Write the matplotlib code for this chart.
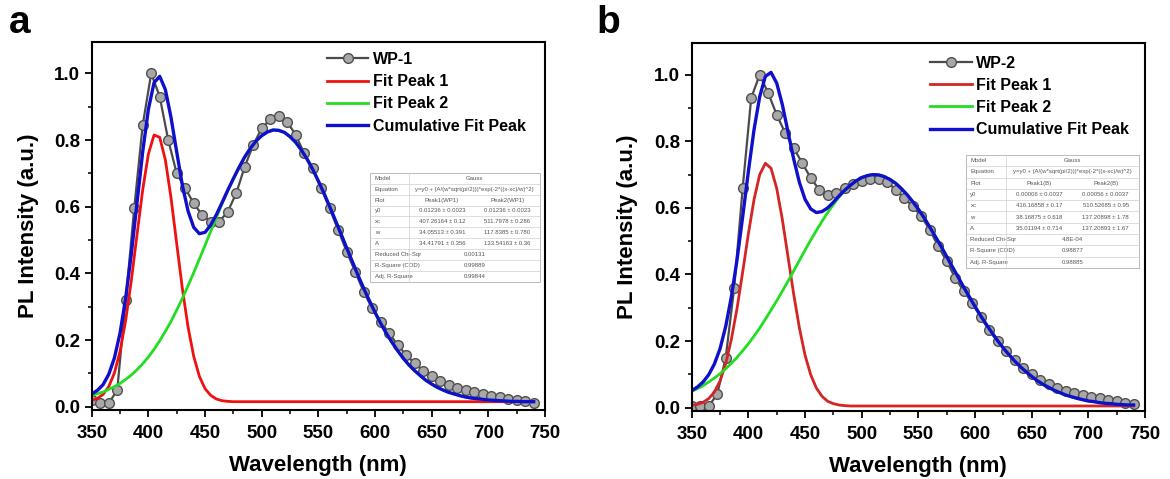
import numpy as np
import matplotlib
matplotlib.use('Agg')
import matplotlib.pyplot as plt
from matplotlib.ticker import MultipleLocator, FormatStrFormatter
from matplotlib.patches import Rectangle

plt.rcParams['font.family'] = ['Liberation Sans', 'DejaVu Sans']
plt.rcParams['font.weight'] = 'bold'

# measured spectra, one point every 7.5 nm
wl_data = np.arange(350, 741, 7.5)
wp1 = [0.02, 0.01, 0.01, 0.05, 0.32, 0.595, 0.845, 1.0, 0.93, 0.80,
       0.70, 0.655, 0.61, 0.575, 0.555, 0.555, 0.585, 0.64, 0.72, 0.785,
       0.835, 0.862, 0.872, 0.855, 0.815, 0.76, 0.715, 0.655, 0.595, 0.53,
       0.465, 0.405, 0.345, 0.295, 0.255, 0.22, 0.185, 0.155, 0.13, 0.108,
       0.092, 0.078, 0.066, 0.057, 0.049, 0.043, 0.037, 0.032, 0.028, 0.024,
       0.02, 0.016, 0.012]
wp2 = [0.005, 0.005, 0.005, 0.04, 0.15, 0.36, 0.66, 0.93, 1.0, 0.945,
       0.88, 0.825, 0.78, 0.735, 0.69, 0.655, 0.64, 0.645, 0.66, 0.672,
       0.682, 0.688, 0.688, 0.678, 0.655, 0.63, 0.605, 0.575, 0.535, 0.485,
       0.44, 0.39, 0.35, 0.315, 0.272, 0.232, 0.2, 0.17, 0.143, 0.12,
       0.1, 0.083, 0.07, 0.058, 0.05, 0.045, 0.039, 0.033, 0.028, 0.024,
       0.019, 0.015, 0.011]

# fit curves, read every 5 nm
wl_fit = np.arange(350, 741, 5)
peak1_a = [0.019, 0.025, 0.037, 0.060, 0.101, 0.166, 0.260, 0.380, 0.517, 0.651,
           0.758, 0.815, 0.808, 0.740, 0.626, 0.489, 0.354, 0.239, 0.151, 0.091,
           0.054, 0.034, 0.023, 0.018, 0.016, 0.015, 0.015, 0.015, 0.015, 0.015,
           0.015, 0.015, 0.015, 0.015, 0.015, 0.015, 0.015, 0.015, 0.015, 0.015,
           0.015, 0.015, 0.015, 0.015, 0.015, 0.015, 0.015, 0.015, 0.015, 0.015,
           0.015, 0.015, 0.015, 0.015, 0.015, 0.015, 0.015, 0.015, 0.015, 0.015,
           0.015, 0.015, 0.015, 0.015, 0.015, 0.015, 0.015, 0.015, 0.015, 0.015,
           0.015, 0.015, 0.015, 0.015, 0.015, 0.015, 0.015, 0.015, 0.015]
peak2_a = [0.034, 0.039, 0.044, 0.052, 0.060, 0.070, 0.082, 0.095, 0.111, 0.129,
           0.149, 0.172, 0.198, 0.226, 0.256, 0.290, 0.325, 0.363, 0.402, 0.443,
           0.484, 0.526, 0.568, 0.609, 0.648, 0.684, 0.718, 0.749, 0.775, 0.797,
           0.813, 0.824, 0.830, 0.829, 0.823, 0.810, 0.793, 0.770, 0.743, 0.712,
           0.677, 0.640, 0.600, 0.559, 0.518, 0.476, 0.435, 0.394, 0.355, 0.318,
           0.283, 0.250, 0.220, 0.193, 0.168, 0.145, 0.125, 0.108, 0.093, 0.079,
           0.068, 0.058, 0.050, 0.043, 0.038, 0.033, 0.029, 0.026, 0.024, 0.022,
           0.020, 0.019, 0.018, 0.017, 0.016, 0.016, 0.015, 0.015, 0.015]
cumul_a = [0.038, 0.049, 0.066, 0.097, 0.146, 0.221, 0.327, 0.460, 0.613, 0.765,
           0.892, 0.972, 0.991, 0.951, 0.867, 0.764, 0.664, 0.587, 0.538, 0.519,
           0.523, 0.545, 0.576, 0.612, 0.649, 0.684, 0.718, 0.749, 0.775, 0.797,
           0.813, 0.824, 0.830, 0.829, 0.823, 0.810, 0.793, 0.770, 0.743, 0.712,
           0.677, 0.640, 0.600, 0.559, 0.518, 0.476, 0.435, 0.394, 0.355, 0.318,
           0.283, 0.250, 0.220, 0.193, 0.168, 0.145, 0.125, 0.108, 0.093, 0.079,
           0.068, 0.058, 0.050, 0.043, 0.038, 0.033, 0.029, 0.026, 0.024, 0.022,
           0.020, 0.019, 0.018, 0.017, 0.016, 0.016, 0.015, 0.015, 0.015]

peak1_b = [0.007, 0.010, 0.016, 0.027, 0.047, 0.080, 0.132, 0.205, 0.298, 0.408,
           0.522, 0.625, 0.700, 0.734, 0.719, 0.659, 0.565, 0.453, 0.341, 0.240,
           0.158, 0.099, 0.059, 0.034, 0.019, 0.012, 0.008, 0.006, 0.005, 0.005,
           0.005, 0.005, 0.005, 0.005, 0.005, 0.005, 0.005, 0.005, 0.005, 0.005,
           0.005, 0.005, 0.005, 0.005, 0.005, 0.005, 0.005, 0.005, 0.005, 0.005,
           0.005, 0.005, 0.005, 0.005, 0.005, 0.005, 0.005, 0.005, 0.005, 0.005,
           0.005, 0.005, 0.005, 0.005, 0.005, 0.005, 0.005, 0.005, 0.005, 0.005,
           0.005, 0.005, 0.005, 0.005, 0.005, 0.005, 0.005, 0.005, 0.005]
peak2_b = [0.049, 0.057, 0.066, 0.077, 0.089, 0.102, 0.117, 0.133, 0.151, 0.171,
           0.192, 0.215, 0.239, 0.266, 0.293, 0.321, 0.350, 0.380, 0.411, 0.442,
           0.473, 0.503, 0.532, 0.560, 0.586, 0.610, 0.633, 0.652, 0.668, 0.681,
           0.691, 0.697, 0.700, 0.699, 0.694, 0.685, 0.674, 0.658, 0.640, 0.619,
           0.596, 0.571, 0.543, 0.514, 0.485, 0.454, 0.423, 0.393, 0.362, 0.333,
           0.304, 0.276, 0.250, 0.225, 0.201, 0.179, 0.159, 0.140, 0.123, 0.108,
           0.094, 0.081, 0.070, 0.061, 0.052, 0.045, 0.038, 0.033, 0.028, 0.024,
           0.020, 0.018, 0.015, 0.013, 0.012, 0.010, 0.009, 0.008, 0.008]
cumul_b = [0.051, 0.062, 0.077, 0.099, 0.131, 0.177, 0.244, 0.333, 0.444, 0.574,
           0.709, 0.835, 0.934, 0.995, 1.007, 0.975, 0.910, 0.828, 0.747, 0.677,
           0.626, 0.597, 0.586, 0.589, 0.600, 0.617, 0.636, 0.653, 0.668, 0.681,
           0.691, 0.697, 0.700, 0.699, 0.694, 0.685, 0.674, 0.658, 0.640, 0.619,
           0.596, 0.571, 0.543, 0.514, 0.485, 0.454, 0.423, 0.393, 0.362, 0.333,
           0.304, 0.276, 0.250, 0.225, 0.201, 0.179, 0.159, 0.140, 0.123, 0.108,
           0.094, 0.081, 0.070, 0.061, 0.052, 0.045, 0.038, 0.033, 0.028, 0.024,
           0.020, 0.018, 0.015, 0.013, 0.012, 0.010, 0.009, 0.008, 0.008]

eq = 'y=y0 + (A/(w*sqrt(pi/2)))*exp(-2*((x-xc)/w)^2)'
table_a = [('Model', 'Gauss'), ('Equation', eq),
           ('Plot', 'Peak1(WP1)', 'Peak2(WP1)'),
           ('y0', '0.01236 \u00b1 0.0023', '0.01236 \u00b1 0.0023'),
           ('xc', '407.26164 \u00b1 0.12', '511.7978 \u00b1 0.286'),
           ('w', '34.05513 \u00b1 0.391', '117.8385 \u00b1 0.780'),
           ('A', '34.41791 \u00b1 0.356', '133.54163 \u00b1 0.36'),
           ('Reduced Chi-Sqr', '0.00131'), ('R-Square (COD)', '0.99889'),
           ('Adj. R-Square', '0.99844')]
table_b = [('Model', 'Gauss'), ('Equation', eq),
           ('Plot', 'Peak1(B)', 'Peak2(B)'),
           ('y0', '0.00006 \u00b1 0.0037', '0.00056 \u00b1 0.0037'),
           ('xc', '416.16858 \u00b1 0.17', '510.52685 \u00b1 0.95'),
           ('w', '38.16875 \u00b1 0.618', '137.20898 \u00b1 1.78'),
           ('A', '35.01194 \u00b1 0.714', '137.20893 \u00b1 1.67'),
           ('Reduced Chi-Sqr', '4.8E-04'), ('R-Square (COD)', '0.98877'),
           ('Adj. R-Square', '0.98885')]


def draw_table(ax, x0, y0, w, h, rows):
    n = len(rows)
    rh = h / n
    c1 = w * 0.23
    tr = ax.transAxes
    ax.add_patch(Rectangle((x0, y0), w, h, transform=tr, facecolor='white',
                           edgecolor='#b0b0b0', lw=0.6, zorder=6))
    kw = dict(transform=tr, fontsize=4.3, color='#555555', weight='normal',
              va='center', zorder=7)
    for i, row in enumerate(rows):
        yc = y0 + h - (i + 0.5) * rh
        ax.text(x0 + 0.01, yc, row[0], ha='left', **kw)
        if len(row) == 2:
            ax.text(x0 + c1 + (w - c1) / 2, yc, row[1], ha='center', **kw)
        else:
            ax.text(x0 + c1 + (w - c1) * 0.25, yc, row[1], ha='center', **kw)
            ax.text(x0 + c1 + (w - c1) * 0.75, yc, row[2], ha='center', **kw)
        if i < n - 1:
            yl = y0 + h - (i + 1) * rh
            ax.plot([x0, x0 + w], [yl, yl], transform=tr, color='#d0d0d0',
                    lw=0.5, zorder=7)
    ax.plot([x0 + c1, x0 + c1], [y0, y0 + h], transform=tr, color='#d0d0d0',
            lw=0.5, zorder=7)


def panel(ax, data, name, p1, p2, cum, rows, tab_box, leg_anchor, red):
    ax.plot(wl_data, data, color='#4a4a4a', lw=1.6, marker='o', ms=7,
            mfc='#a8a8a8', mec='#505050', mew=1.0, label=name)
    ax.plot(wl_fit, p1, color=red, lw=2, label='Fit Peak 1')
    ax.plot(wl_fit, p2, color='#22dd22', lw=2, label='Fit Peak 2')
    ax.plot(wl_fit, cum, color='#1010cc', lw=2.4, label='Cumulative Fit Peak')

    ax.set_xlim(350, 750)
    ax.set_ylim(-0.01, 1.095)
    ax.xaxis.set_major_locator(MultipleLocator(50))
    ax.xaxis.set_minor_locator(MultipleLocator(25))
    ax.yaxis.set_major_locator(MultipleLocator(0.2))
    ax.yaxis.set_minor_locator(MultipleLocator(0.1))
    ax.yaxis.set_major_formatter(FormatStrFormatter('%.1f'))
    ax.tick_params(which='major', direction='out', length=5, width=1.3,
                   labelsize=13.5)
    ax.tick_params(axis='x', which='major', pad=6)
    ax.tick_params(which='minor', direction='out', length=3, width=1.1)
    for s in ax.spines.values():
        s.set_linewidth(1.5)

    ax.set_xlabel('Wavelength (nm)', fontsize=16, fontweight='bold', labelpad=9)
    ax.set_ylabel('PL Intensity (a.u.)', fontsize=16, fontweight='bold', labelpad=11)

    ax.legend(loc='upper left', bbox_to_anchor=leg_anchor, frameon=False,
              fontsize=11.5, handlelength=2.6, handletextpad=0.3,
              labelspacing=0.45, borderpad=0, borderaxespad=0)
    draw_table(ax, *tab_box, rows)


fig = plt.figure(figsize=(11.7, 4.79), dpi=100)
ax_a = fig.add_axes([0.0784, 0.144, 0.3874, 0.769])
ax_b = fig.add_axes([0.5912, 0.142, 0.3874, 0.768])

panel(ax_a, wp1, 'WP-1', peak1_a, peak2_a, cumul_a, table_a,
      (0.614, 0.348, 0.375, 0.296), (0.519, 0.972), '#f01010')
panel(ax_b, wp2, 'WP-2', peak1_b, peak2_b, cumul_b, table_b,
      (0.605, 0.389, 0.382, 0.307), (0.526, 0.966), '#d42424')

fig.text(0.008, 0.99, 'a', fontsize=28, fontweight='bold', va='top')
fig.text(0.51, 0.99, 'b', fontsize=28, fontweight='bold', va='top')

fig.savefig('out.png', dpi=100)
